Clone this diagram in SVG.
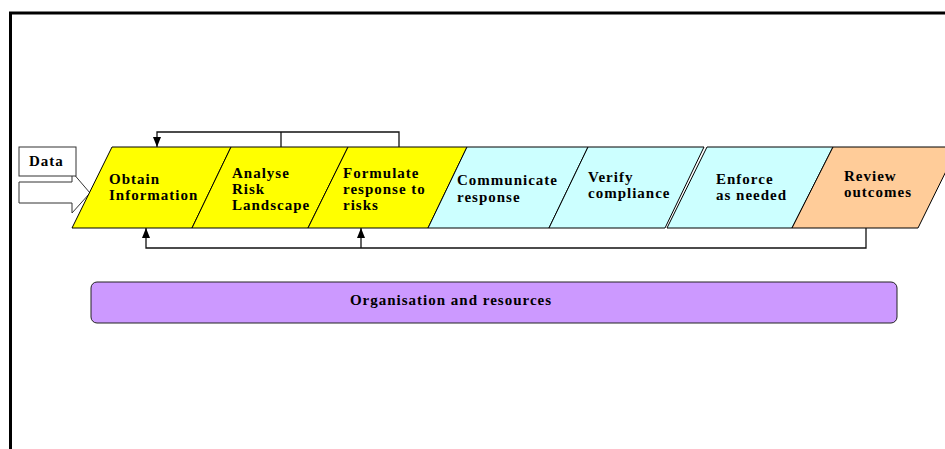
<svg xmlns="http://www.w3.org/2000/svg" width="945" height="449" viewBox="0 0 945 449">
  <defs>
    <marker id="arr" markerUnits="userSpaceOnUse" markerWidth="10" markerHeight="10" viewBox="0 0 10 10" refX="10" refY="5" orient="auto">
      <path d="M0,1 L10,5 L0,9 Z" fill="#000"/>
    </marker>
  </defs>
  <style>
    .t { font-family: "Liberation Serif", "Times New Roman", serif; font-weight: bold; font-size: 15px; letter-spacing: 1px; fill: #000; }
    .shape { stroke: #000; stroke-width: 1; stroke-linejoin: miter; }
    .yel { fill: #FFFF00; }
    .cya { fill: #CCFFFF; }
    .ora { fill: #FFCC99; }
    .conn { fill: none; stroke: #111; stroke-width: 1.3; }
  </style>
  <rect width="945" height="449" fill="#fff"/>
  <!-- frame -->
  <path d="M10.5,449 L10.5,13 L945,13" fill="none" stroke="#000" stroke-width="3"/>

  <g id="input-arrow">
    <polygon points="19,182 72,182 72,172 90,193 72,213 72,203 19,203" fill="#fff" stroke="#333" stroke-width="1"/>
  </g>
  <g id="data">
    <rect x="19" y="147" width="57" height="29" fill="#fff" stroke="#333" stroke-width="1"/>
    <text class="t" x="29" y="166" letter-spacing="0.5">Data</text>
  </g>

  <g id="obtain">
    <polygon class="shape yel" points="112,147 231,147 192,228 72,228"/>
    <text class="t" x="109" y="184">Obtain</text>
    <text class="t" x="109" y="200">Information</text>
  </g>
  <g id="analyse">
    <polygon class="shape yel" points="231,147 348,147 308,228 192,228"/>
    <text class="t" x="232" y="178">Analyse</text>
    <text class="t" x="232" y="194">Risk</text>
    <text class="t" x="232" y="210">Landscape</text>
  </g>
  <g id="formulate">
    <polygon class="shape yel" points="348,147 467,147 428,228 308,228"/>
    <text class="t" x="343" y="178">Formulate</text>
    <text class="t" x="343" y="194">response to</text>
    <text class="t" x="343" y="210">risks</text>
  </g>
  <g id="communicate">
    <polygon class="shape cya" points="467,147 588,147 549,228 428,228"/>
    <text class="t" x="457" y="185">Communicate</text>
    <text class="t" x="457" y="202">response</text>
  </g>
  <g id="verify">
    <polygon class="shape cya" points="588,147 704,147 665,228 549,228"/>
    <text class="t" x="588" y="182">Verify</text>
    <text class="t" x="588" y="198">compliance</text>
  </g>
  <g id="enforce">
    <polygon class="shape cya" points="707,147 833,147 792,228 667,228"/>
    <text class="t" x="716" y="184">Enforce</text>
    <text class="t" x="716" y="200">as needed</text>
  </g>
  <g id="review">
    <polygon class="shape ora" points="833,147 958,147 918,228 792,228"/>
    <text class="t" x="844" y="181">Review</text>
    <text class="t" x="844" y="197">outcomes</text>
  </g>

  <g id="organisation">
    <rect x="91" y="282" width="806" height="41" rx="6" ry="6" fill="#CC99FF" stroke="#222" stroke-width="1"/>
    <text class="t" x="451" y="305" text-anchor="middle" letter-spacing="0.9">Organisation and resources</text>
  </g>

  <g id="connectors">
    <polyline class="conn" points="281,147 281,132"/>
    <polyline class="conn" points="399,147 399,132 157,132 157,147" marker-end="url(#arr)"/>
    <polyline class="conn" points="866,228 866,248 146,248 146,228" marker-end="url(#arr)"/>
    <polyline class="conn" points="361,248 361,228" marker-end="url(#arr)"/>
  </g>
</svg>
